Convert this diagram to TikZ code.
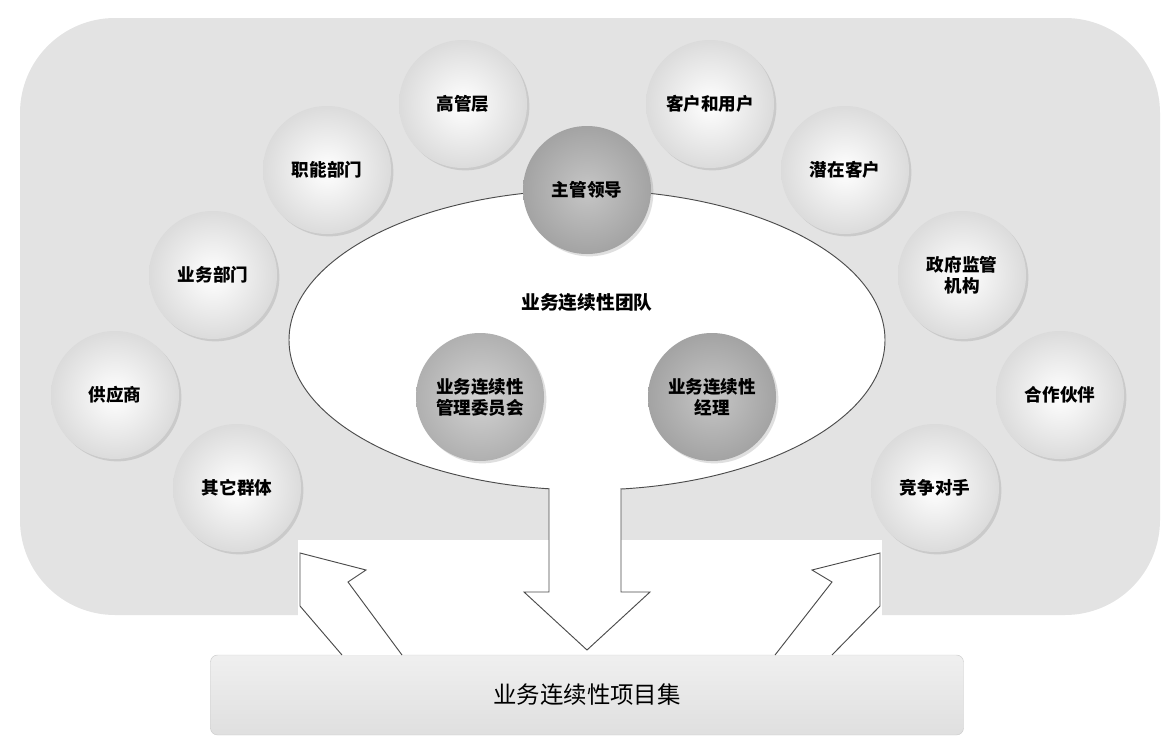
\documentclass[tikz,border=0pt]{standalone}
\usepackage{fontspec}
\newfontfamily\cjk{Noto Sans CJK SC}
\usetikzlibrary{shadows,shapes.geometric}
\begin{document}
\begin{tikzpicture}[x=0.03cm,y=-0.03cm,
 lc/.style={circle,minimum size=128*0.03cm,inner sep=0pt,align=center,font=\cjk\bfseries\fontsize{15}{18}\selectfont,
   inner color=white,outer color=gray!28,drop shadow={opacity=0.25,shadow xshift=2pt,shadow yshift=-2pt}},
 dc/.style={lc,inner color=gray!45,outer color=gray!72},
 arr/.style={fill=white,draw=black!70,line width=0.8pt,line join=miter}]
\useasboundingbox (0,0) rectangle (1174,756);
\fill[gray!22,rounded corners=95*0.03cm] (20,18) rectangle (1160,615);
\fill[white] (298,540) rectangle (882,620);
\node[lc] (g) at (463,104) {高管层};
\node[lc] (k) at (710,104) {客户和用户};
\node[lc] (z) at (327,170) {职能部门};
\node[lc] (q) at (845,170) {潜在客户};
\node[lc] (y) at (213,275) {业务部门};
\node[lc] (zf) at (962,275) {政府监管\\机构};
\node[lc] (s) at (115,395) {供应商};
\node[lc] (h) at (1060,395) {合作伙伴};
\node[lc] (o) at (237,488) {其它群体};
\node[lc] (j) at (935,488) {竞争对手};
\node[ellipse,draw=black!70,line width=0.8pt,fill=white,minimum width=596*0.03cm,minimum height=300*0.03cm] (e) at (587,340) {};
\node[dc] (l) at (587,190) {主管领导};
\node[font=\cjk\bfseries\fontsize{16}{19}\selectfont] (t) at (587,302) {业务连续性团队};
\node[dc,inner color=gray!35,outer color=gray!62] (w) at (480,397) {业务连续性\\管理委员会};
\node[dc] (m) at (712,397) {业务连续性\\经理};
\node[rounded corners=6pt,minimum width=753*0.03cm,minimum height=80*0.03cm,
  top color=gray!12,bottom color=gray!25,draw=gray!40,font=\cjk\fontsize{20}{24}\selectfont] (b) at (587,695) {业务连续性项目集};
\draw[arr] (549,488) -- (549,592) -- (524,592) -- (587,650) -- (650,592) -- (621,592) -- (621,488);
\draw[arr] (342,655) -- (300,606) -- (300,553) -- (366,570) -- (348,582) -- (402,655);
\draw[arr] (832,655) -- (880,606) -- (880,553) -- (812,570) -- (832,582) -- (775,655);
\end{tikzpicture}
\end{document}
